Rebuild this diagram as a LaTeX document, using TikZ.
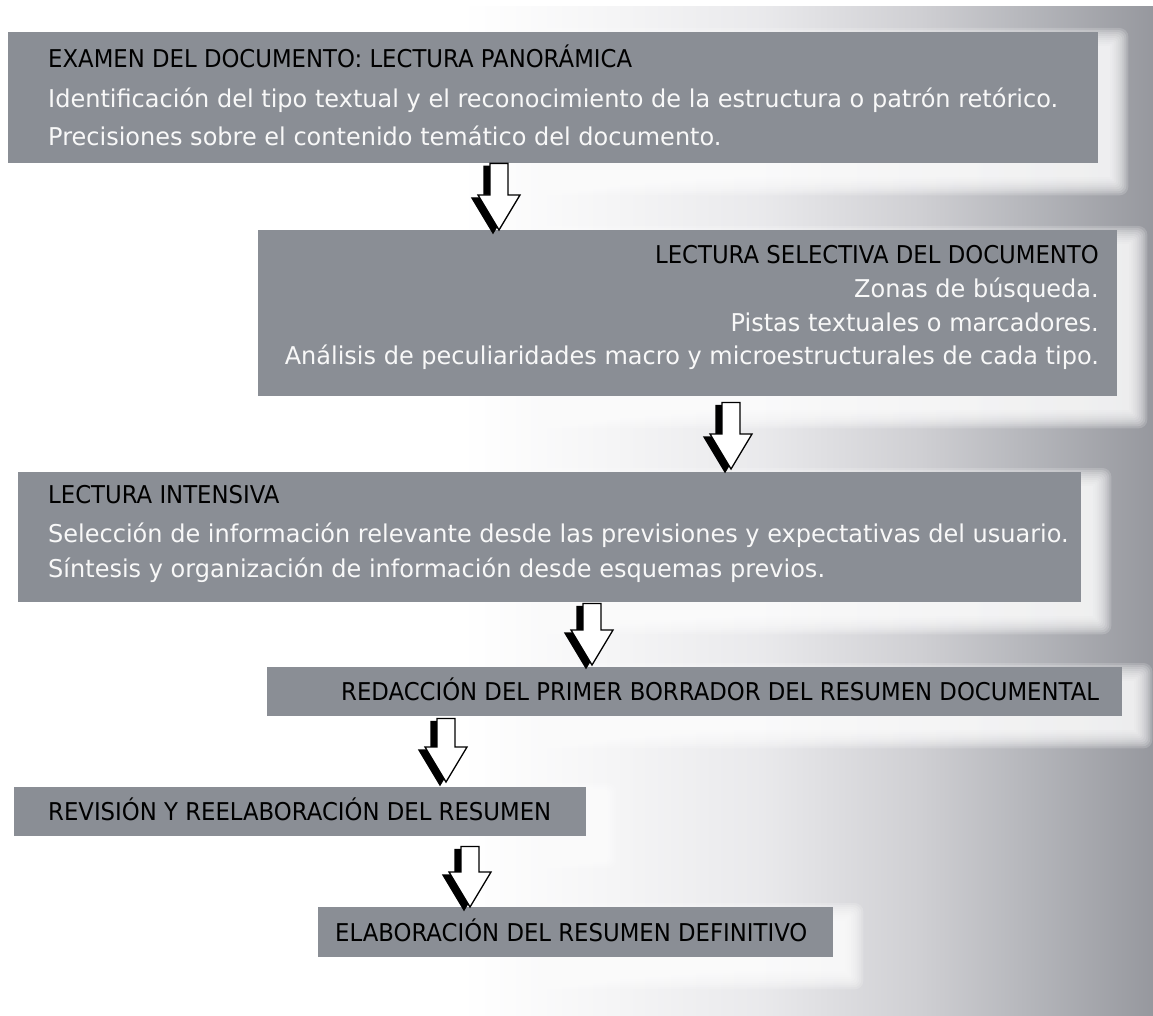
\documentclass[tikz,border=0pt]{standalone}
\usepackage{fontspec}
\setmainfont{DejaVu Sans}
\newfontfamily\ttlfont{DejaVu Sans}[FakeStretch=0.93]
\newfontfamily\bdyfont{DejaVu Sans}[FakeStretch=0.98]
\usetikzlibrary{calc}
\definecolor{boxgray}{RGB}{138,142,149}
\definecolor{txtwhite}{RGB}{248,248,248}
\pgfdeclarehorizontalshading{bgshade}{100bp}{%
  rgb(0bp)=(1,1,1); rgb(45bp)=(1,1,1); rgb(51bp)=(0.965,0.965,0.968);
  rgb(58bp)=(0.915,0.915,0.925); rgb(65bp)=(0.81,0.81,0.825);
  rgb(70bp)=(0.70,0.705,0.725); rgb(75bp)=(0.59,0.596,0.62); rgb(100bp)=(0.59,0.596,0.62)}
\newcommand\blkarrow[4]{%
  \draw[#3] ($(#1)+(#4)+(-9,0)$) -- ($(#1)+(#4)+(9,0)$) -- ($(#2)+(#4)+(9,-35)$)
    -- ($(#2)+(#4)+(21,-35)$) -- ($(#2)+(#4)$) -- ($(#2)+(#4)+(-21,-35)$)
    -- ($(#2)+(#4)+(-9,-35)$) -- cycle;}
\newcommand\glowbox[1]{%
  \foreach \s in {18,16,...,0}{%
    \fill[white, fill opacity=0.17, rounded corners=0.5*\s pt]
      ($(#1.north west)+(12-\s,14-\s)$) rectangle ($(#1.south east)+(12+\s,14+\s)$);}}
\begin{document}
\begin{tikzpicture}[x=1pt,y=-1pt,
  box/.style={fill=boxgray, draw=none, inner sep=0pt, anchor=north west},
  ttl/.style={font=\ttlfont\fontsize{24.5}{28}\selectfont, text=black, inner sep=0pt},
  bdy/.style={font=\bdyfont\fontsize{24.5}{28}\selectfont, text=txtwhite, inner sep=0pt},
  arrowfront/.style={fill=white, draw=black, line width=1.3pt, line join=miter},
  arrowback/.style={fill=black, draw=black, line width=1.3pt, line join=miter}]
\useasboundingbox (0,0) rectangle (1153,1016);
% background
\fill[white] (0,0) rectangle (1153,1016);
\shade[shading=bgshade] (0,7) rectangle (1153,1016);
% boxes
\node[box, minimum width=1090pt, minimum height=131pt] (b1) at (8,32) {};
\node[box, minimum width=859pt, minimum height=166pt] (b2) at (258,230) {};
\node[box, minimum width=1063pt, minimum height=130pt] (b3) at (18,472) {};
\node[box, minimum width=855pt, minimum height=49pt] (b4) at (267,667) {};
\node[box, minimum width=572pt, minimum height=49pt] (b5) at (14,787) {};
\node[box, minimum width=515pt, minimum height=50pt] (b6) at (318,907) {};
\glowbox{b1}\glowbox{b2}\glowbox{b3}\glowbox{b4}\glowbox{b5}\glowbox{b6}
% boxes over glows
\foreach \b in {b1,b2,b3,b4,b5,b6}{\fill[boxgray] (\b.north west) rectangle (\b.south east);}
% texts
\node[ttl, anchor=base west] (t11) at (48,68) {EXAMEN DEL DOCUMENTO: LECTURA PANORÁMICA};
\node[bdy, anchor=base west] (t12) at (48,108) {Identificación del tipo textual y el reconocimiento de la estructura o patrón retórico.};
\node[bdy, anchor=base west] (t13) at (48,146) {Precisiones sobre el contenido temático del documento.};
\node[ttl, anchor=base east] (t21) at (1099,264) {LECTURA SELECTIVA DEL DOCUMENTO};
\node[bdy, anchor=base east] (t22) at (1099,298) {Zonas de búsqueda.};
\node[bdy, anchor=base east] (t23) at (1099,331) {Pistas textuales o marcadores.};
\node[bdy, anchor=base east] (t24) at (1099,364) {Análisis de peculiaridades macro y microestructurales de cada tipo.};
\node[ttl, anchor=base west] (t31) at (48,503) {LECTURA INTENSIVA};
\node[bdy, anchor=base west] (t32) at (48,542) {Selección de información relevante desde las previsiones y expectativas del usuario.};
\node[bdy, anchor=base west] (t33) at (48,577) {Síntesis y organización de información desde esquemas previos.};
\node[ttl, anchor=base west] (t41) at (341,700) {REDACCIÓN DEL PRIMER BORRADOR DEL RESUMEN DOCUMENTAL};
\node[ttl, anchor=base west] (t51) at (48,820) {REVISIÓN Y REELABORACIÓN DEL RESUMEN};
\node[ttl, anchor=base west] (t61) at (335,941) {ELABORACIÓN DEL RESUMEN DEFINITIVO};
% arrow end points
\coordinate (a1s) at (499,0 |- b1.south);
\coordinate (a1e) at (499,0 |- b2.north);
\coordinate (a2s) at ($(731,0 |- b2.south)+(0,6)$);
\coordinate (a2e) at ($(731,0 |- b3.north)+(0,-3)$);
\coordinate (a3s) at ($(592,0 |- b3.south)+(0,1)$);
\coordinate (a3e) at ($(592,0 |- b4.north)+(0,-2)$);
\coordinate (a4s) at ($(446,0 |- b4.south)+(0,2)$);
\coordinate (a4e) at ($(446,0 |- b5.north)+(0,-5)$);
\coordinate (a5s) at ($(470,0 |- b5.south)+(0,10)$);
\coordinate (a5e) at ($(470,0 |- b6.north)+(0,0)$);
% arrows
\foreach \a in {1,...,5}{%
  \blkarrow{a\a s}{a\a e}{arrowback}{-6,3}
  \blkarrow{a\a s}{a\a e}{arrowfront}{0,0}
}
\end{tikzpicture}
\end{document}
